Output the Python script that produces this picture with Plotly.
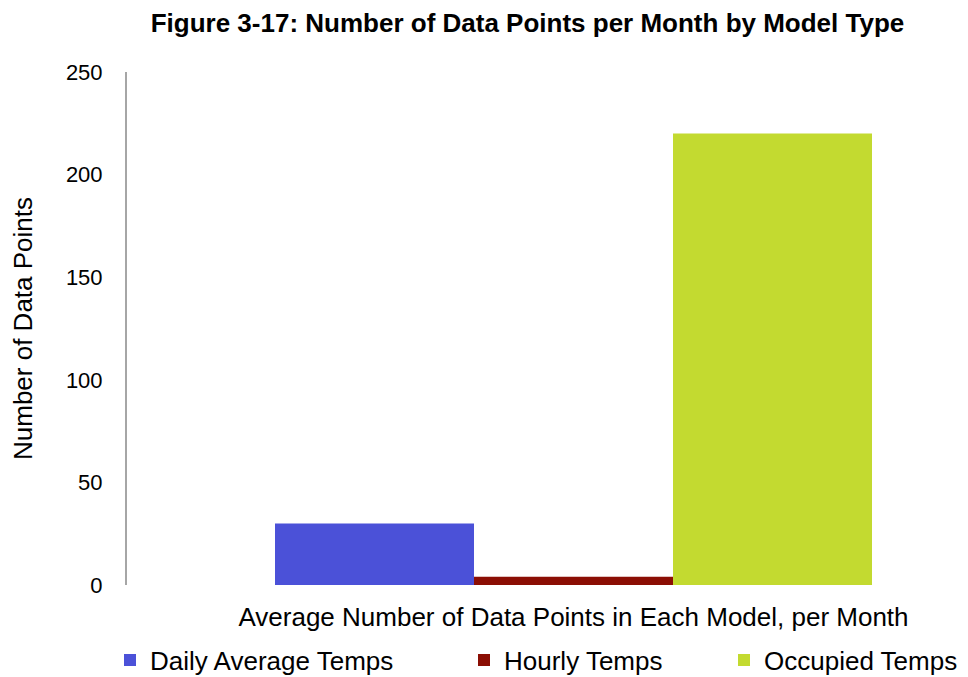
import plotly.graph_objects as go

categories = ["Average Number of Data Points in Each Model, per Month"]
series_names = ["Daily Average Temps", "Hourly Temps", "Occupied Temps"]
series_values = [[30], [4], [220]]
series_colors = ["#4B51D8", "#8B0E04", "#C3DA30"]
y_ticks = [0, 50, 100, 150, 200, 250]

FONT = "Liberation Sans, Arial, sans-serif"

fig = go.Figure()
legend_ids = ["legend", "legend2", "legend3"]
for name, vals, col, lg in zip(series_names, series_values, series_colors, legend_ids):
    fig.add_trace(go.Bar(x=categories, y=vals, name=name, marker_color=col,
                         marker_line_width=0, legend=lg))

# page body adds an 8px offset; work in figure coordinates
OFF = 8
W, H = 968 - OFF, 677 - OFF
L, T = 127 - OFF, 72 - OFF
plot_right = 960 - OFF
plot_bottom = 585 - OFF
R, B = W - plot_right, H - plot_bottom
plot_w = W - L - R
plot_h = H - T - B

bargap = 0.3
px_per_unit = 597 / (1 - bargap)
center_px = 573.5 - OFF
x0 = (L - center_px) / px_per_unit
x1 = (plot_right - center_px) / px_per_unit

def px_to_paper(px):
    return (px - L) / plot_w

legend_text_x = [150 - OFF, 504 - OFF, 764 - OFF]
leg_y = (plot_bottom - (660 - OFF)) / plot_h
legend_cfg = {}
for lg, tx in zip(legend_ids, legend_text_x):
    legend_cfg[lg] = dict(
        x=px_to_paper(tx - 40), xanchor="left", y=leg_y, yanchor="middle",
        orientation="h", font=dict(family=FONT, size=26, color="#000000"),
        bgcolor="rgba(0,0,0,0)", borderwidth=0, tracegroupgap=0,
    )

fig.update_layout(
    width=W, height=H,
    margin=dict(l=L, r=R, t=T, b=B, autoexpand=False),
    paper_bgcolor="white", plot_bgcolor="white",
    barmode="group", bargap=bargap, bargroupgap=0,
    font=dict(family=FONT, color="#000000"),
    title=dict(text="<b>Figure 3-17: Number of Data Points per Month by Model Type</b>",
               x=(527.5 - OFF) / W, xanchor="center", y=1 - (23 - OFF) / H, yanchor="middle",
               font=dict(family=FONT, size=26, color="#000000")),
    showlegend=True,
    **legend_cfg,
)

fig.update_xaxes(
    type="category", range=[x0, x1], showline=False, showgrid=False,
    ticks="", tickfont=dict(family=FONT, size=26, color="#000000"),
    ticklabelstandoff=14, zeroline=False, fixedrange=True,
)
fig.update_yaxes(
    range=[0, 250], tickvals=y_ticks, showgrid=False, zeroline=False,
    showline=True, linecolor="#A6A6A6", linewidth=2,
    ticks="", tickfont=dict(family=FONT, size=22, color="#000000"),
    ticklabelstandoff=18,
    title=dict(text="Number of Data Points", font=dict(family=FONT, size=26, color="#000000"),
               standoff=28),
    fixedrange=True,
)

fig.write_html("out.html")
